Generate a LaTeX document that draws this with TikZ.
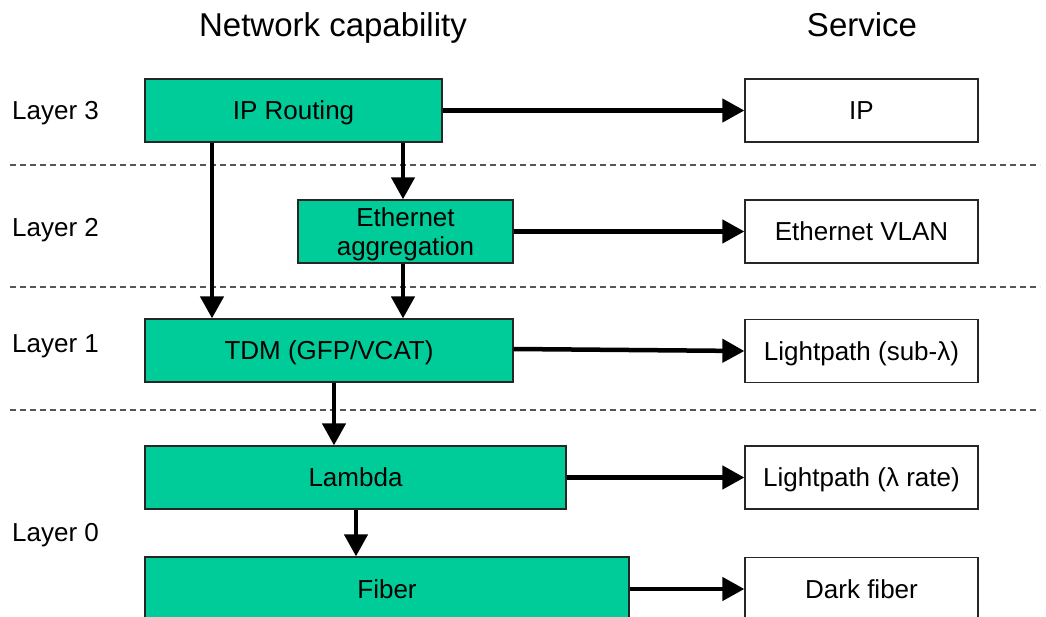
\documentclass[tikz,border=0pt]{standalone}
\usepackage{fontspec}
\setmainfont{Liberation Sans}
\usetikzlibrary{arrows.meta}
\definecolor{boxgreen}{HTML}{00CC99}
\definecolor{dashgray}{HTML}{555555}
\tikzset{
  capbox/.style={draw=black!85, line width=1.3pt, fill=boxgreen, minimum height=63pt, inner sep=0pt, font=\fontsize{26}{29}\selectfont, align=center, text depth=0pt},
  svcbox/.style={draw=black!85, line width=1.3pt, fill=white, minimum width=233pt, minimum height=63pt, inner sep=0pt, font=\fontsize{26}{29}\selectfont, text depth=0pt},
  arr/.style={line width=4.5pt, -{Triangle[length=22pt,width=23pt]}},
  sep/.style={dashgray, line width=1.3pt, dash pattern=on 6pt off 4pt},
  lbl/.style={anchor=west, inner sep=0pt, text depth=0pt, font=\fontsize{26}{28}\selectfont},
  ttl/.style={inner sep=0pt, text depth=0pt, font=\fontsize{33}{36}\selectfont}
}
\begin{document}
\begin{tikzpicture}[x=1pt, y=-1pt]
\useasboundingbox (0,0) rectangle (1046,617);
\clip (0,0) rectangle (1046,617);
% titles
\node[ttl] (t1) at (333,25) {Network capability};
\node[ttl] (t2) at (862,25) {Service};
% layer labels
\node[lbl] (l3) at (12,110) {Layer 3};
\node[lbl] (l2) at (12,227) {Layer 2};
\node[lbl] (l1) at (12,344) {Layer 1};
\node[lbl] (l0) at (12,532) {Layer 0};
% separators
\coordinate (s1a) at (10,165); \coordinate (s1b) at (1040,165);
\coordinate (s2a) at (10,287); \coordinate (s2b) at (1040,287);
\coordinate (s3a) at (10,410); \coordinate (s3b) at (1040,410);
\draw[sep] (s1a) -- (s1b);
\draw[sep] (s2a) -- (s2b);
\draw[sep] (s3a) -- (s3b);
% capability boxes
\node[capbox, minimum width=297pt] (ip) at (293.5,110.5) {IP Routing};
\node[capbox, minimum width=215pt] (eth) at (405.5,231.5) {Ethernet\\aggregation};
\node[capbox, minimum width=368pt] (tdm) at (329,350.5) {TDM (GFP/VCAT)};
\node[capbox, minimum width=421pt] (lam) at (355.5,477.5) {Lambda};
\node[capbox, minimum width=484pt, minimum height=64pt] (fib) at (387,589) {Fiber};
% service boxes
\node[svcbox] (sip) at (861.5,110.5) {IP};
\node[svcbox] (svl) at (861.5,231.5) {Ethernet VLAN};
\node[svcbox] (ssub) at (861.5,351) {Lightpath (sub-λ)};
\node[svcbox] (srate) at (861.5,477.5) {Lightpath (λ rate)};
\node[svcbox] (sdark) at (861.5,589) {Dark fiber};
% horizontal arrows
\draw[arr] (ip.east) -- (sip.west);
\draw[arr] (eth.east) -- (svl.west);
\draw[arr] ([yshift=1.5pt]tdm.east) -- (ssub.west);
\draw[arr] (lam.east) -- (srate.west);
\draw[arr] (fib.east) -- (sdark.west);
% vertical arrows
\coordinate (v1) at (212,0);
\coordinate (v2) at (403,0);
\coordinate (v3) at (334,0);
\coordinate (v4) at (356,0);
\draw[arr] (ip.south -| v1) -- (tdm.north -| v1);
\draw[arr] (ip.south -| v2) -- (eth.north -| v2);
\draw[arr] (eth.south -| v2) -- (tdm.north -| v2);
\draw[arr] (tdm.south -| v3) -- (lam.north -| v3);
\draw[arr] (lam.south -| v4) -- (fib.north -| v4);
\end{tikzpicture}
\end{document}
